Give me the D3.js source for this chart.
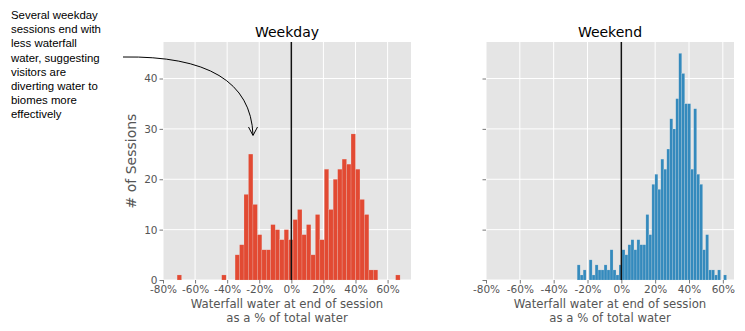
<!DOCTYPE html>
<html>
<head>
<meta charset="utf-8">
<script src="https://cdn.jsdelivr.net/npm/d3@7"></script>
<style>
  body { margin: 0; background: #fff; }
  svg text { font-family: "DejaVu Sans", sans-serif; }
</style>
</head>
<body>
<div id="chart"></div>
<script>
// histogram counts, 50 bins per panel
var weekdayCounts = [1, 0, 0, 0, 0, 0, 0, 0, 0, 0,
                     1, 0, 0, 5, 7, 17, 25, 15, 9, 6,
                     6, 11, 10, 8, 10, 8, 12, 14, 9, 11,
                     5, 13, 8, 22, 14, 20, 22, 24, 23, 29,
                     22, 16, 13, 2, 2, 0, 0, 0, 0, 1];
var weekendCounts = [3, 1, 2, 0, 4, 1, 3, 2, 2, 3,
                     2, 6, 2, 1, 3, 6, 5, 7, 8, 6,
                     8, 7, 7, 13, 9, 19, 21, 18, 24, 22,
                     26, 32, 30, 36, 45, 41, 35, 35, 22, 34,
                     21, 19, 6, 9, 2, 2, 1, 2, 0, 1];
// bin edges (in %)
var weekdayBinStart = -71.2, weekdayBinWidth = 2.78;
var weekendBinStart = -26.1, weekendBinWidth = 1.766;

var xTicks = [-80, -60, -40, -20, 0, 20, 40, 60];
var yTicks = [0, 10, 20, 30, 40];
var titles = ["Weekday", "Weekend"];
var xLabel = ["Waterfall water at end of session", "as a % of total water"];
var yLabel = "# of Sessions";
var note = ["Several weekday", "sessions end with", "less waterfall", "water, suggesting",
            "visitors are", "diverting water  to", "biomes more", "effectively"];

var W = 745, H = 331;
var plotTop = 42, plotH = 238, plotW = 248;

var svg = d3.select("#chart")
    .append("svg")
    .attr("width", W)
    .attr("height", H);

function makeBins(counts, start, w) {
    return counts.map(function (n, i) {
        return { x0: start + i * w, x1: start + (i + 1) * w, n: n };
    });
}

var panels = [
    { title: titles[0], bins: makeBins(weekdayCounts, weekdayBinStart, weekdayBinWidth),
      color: "#E24A33", domain: [-80, 74.6], left: 163, showY: true },
    { title: titles[1], bins: makeBins(weekendCounts, weekendBinStart, weekendBinWidth),
      color: "#348ABD", domain: [-80, 66.6], left: 486, showY: false }
];

var y = d3.scaleLinear().domain([0, 47.25]).range([plotH, 0]);

panels.forEach(function (p) {
    var g = svg.append("g").attr("transform", "translate(" + p.left + "," + plotTop + ")");
    var x = d3.scaleLinear().domain(p.domain).range([0, plotW]);

    g.append("rect")
        .attr("width", plotW)
        .attr("height", plotH)
        .attr("fill", "#E5E5E5");

    // grid
    g.selectAll(".vg").data(xTicks).enter().append("line")
        .attr("x1", function (d) { return x(d); })
        .attr("x2", function (d) { return x(d); })
        .attr("y1", 0).attr("y2", plotH)
        .attr("stroke", "#fff").attr("stroke-width", 1);
    g.selectAll(".hg").data(yTicks).enter().append("line")
        .attr("x1", 0).attr("x2", plotW)
        .attr("y1", function (d) { return y(d); })
        .attr("y2", function (d) { return y(d); })
        .attr("stroke", "#fff").attr("stroke-width", 1);

    // bars
    g.selectAll(".bar").data(p.bins.filter(function (b) { return b.n > 0; }))
        .enter().append("rect")
        .attr("x", function (d) { return x(d.x0); })
        .attr("y", function (d) { return y(d.n); })
        .attr("width", function (d) { return x(d.x1) - x(d.x0); })
        .attr("height", function (d) { return y(0) - y(d.n); })
        .attr("fill", p.color)
        .attr("stroke", "#EEEEEE")
        .attr("stroke-opacity", 0.35)
        .attr("stroke-width", 0.5);

    // zero line
    g.append("line")
        .attr("x1", x(0)).attr("x2", x(0))
        .attr("y1", 0).attr("y2", plotH)
        .attr("stroke", "#111").attr("stroke-width", 1.5);

    // axes
    var xa = g.append("g")
        .attr("transform", "translate(0," + plotH + ")")
        .call(d3.axisBottom(x).tickValues(xTicks).tickSize(3.5).tickPadding(2)
            .tickFormat(function (d) { return d + "%"; }));
    var ya = g.append("g")
        .call(d3.axisLeft(y).tickValues(yTicks).tickSize(3.5).tickPadding(2)
            .tickFormat(p.showY ? d3.format("d") : ""));
    [xa, ya].forEach(function (a) {
        a.select(".domain").remove();
        a.selectAll("line").attr("stroke", "#555").attr("stroke-width", 0.8);
        a.selectAll("text").attr("fill", "#555").style("font-size", "10.5px");
    });

    g.append("text")
        .attr("x", plotW / 2).attr("y", -5)
        .attr("text-anchor", "middle")
        .style("font-size", "14px")
        .attr("fill", "#000")
        .text(p.title);

    xLabel.forEach(function (t, i) {
        g.append("text")
            .attr("x", plotW / 2).attr("y", plotH + 28 + i * 13.5)
            .attr("text-anchor", "middle")
            .style("font-size", "11.7px")
            .attr("fill", "#555")
            .text(t);
    });

    if (p.showY) {
        g.append("text")
            .attr("transform", "translate(-27," + (plotH / 2) + ")rotate(-90)")
            .attr("text-anchor", "middle")
            .style("font-size", "14px")
            .attr("fill", "#555")
            .text(yLabel);
    }
});

// annotation
svg.append("g").selectAll("text").data(note).enter().append("text")
    .attr("x", 11)
    .attr("y", function (d, i) { return 19 + i * 14.2; })
    .style("font-family", "'Liberation Sans', Arial, sans-serif")
    .style("font-size", "11.4px")
    .attr("fill", "#000")
    .text(function (d) { return d; });

svg.append("path")
    .attr("d", "M123,57 Q250,55 253,135")
    .attr("fill", "none")
    .attr("stroke", "#000")
    .attr("stroke-width", 1);
svg.append("path")
    .attr("d", "M248.5,127 L253,135.5 L257.5,127")
    .attr("fill", "none")
    .attr("stroke", "#000")
    .attr("stroke-width", 1);
</script>
</body>
</html>
